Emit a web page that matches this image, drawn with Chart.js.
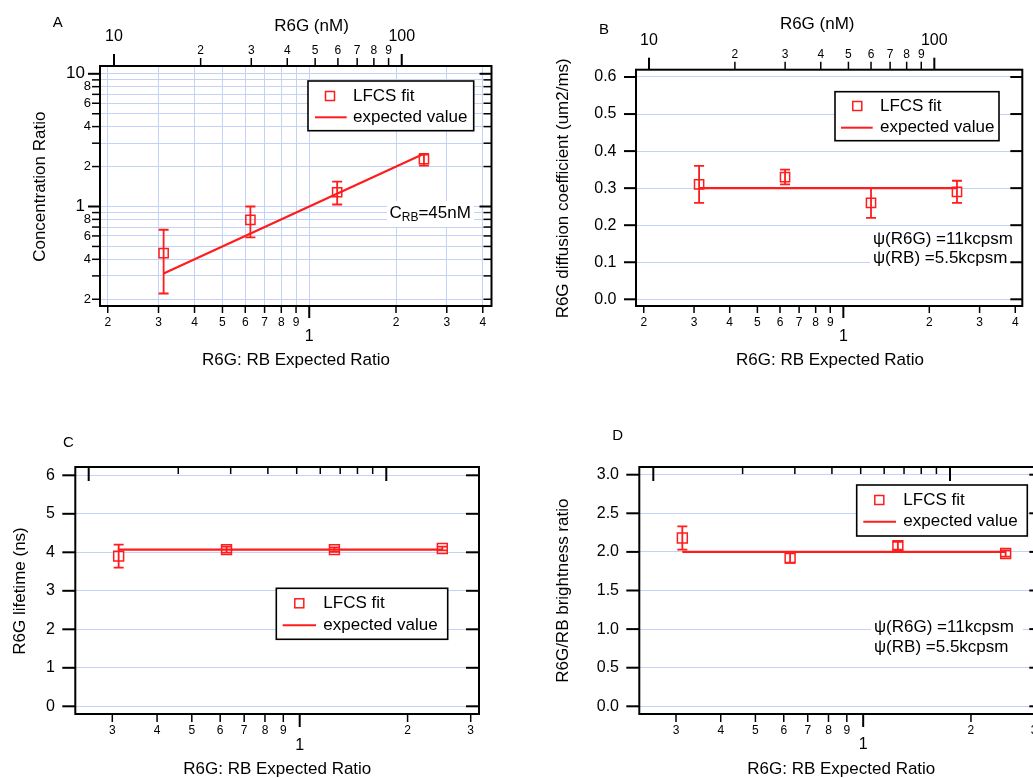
<!DOCTYPE html>
<html>
<head>
<meta charset="utf-8">
<title>R6G / RB LFCS</title>
<script src="https://cdn.jsdelivr.net/npm/chart.js@4.4.1/dist/chart.umd.min.js"></script>
<style>
  html, body { margin: 0; padding: 0; background: #fff; overflow: hidden; }
  body { width: 1033px; height: 778px; position: relative; }
  canvas { position: absolute; left: 0; top: 0; }
</style>
</head>
<body>
<canvas id="chartA" width="1060" height="778"></canvas>
<canvas id="chartB" width="1060" height="778"></canvas>
<canvas id="chartC" width="1060" height="778"></canvas>
<canvas id="chartD" width="1060" height="778"></canvas>
<script>
// R6G:RB expected ratio, same for every panel
const expectedRatio = [0.3125, 0.625, 1.25, 2.5];

// A - concentration ratio from the LFCS fit (error bar low / high)
const concRatio = [0.446, 0.794, 1.28, 2.27];
const concLow   = [0.221, 0.585, 1.035, 2.03];
const concHigh  = [0.668, 1.0, 1.54, 2.49];

// B - R6G diffusion coefficient (um2/ms)
const diffCoef = [0.31, 0.33, 0.26, 0.29];
const diffErr  = [0.05, 0.02, 0.04, 0.03];
const diffExpected = 0.3;

// C - R6G lifetime (ns)
const lifetime = [3.90, 4.07, 4.07, 4.10];
const lifetimeErr = [0.30, 0.08, 0.06, 0.05];
const lifetimeExpected = 4.07;

// D - R6G/RB brightness ratio
const brightRatio = [2.18, 1.92, 2.08, 1.98];
const brightErr   = [0.15, 0.06, 0.05, 0.04];
const brightExpected = 2.0;

// ticks + labels
const ratioTicksAB  = [0.2, 0.3, 0.4, 0.5, 0.6, 0.7, 0.8, 0.9, 1, 2, 3, 4];
const ratioLabelsAB = ['2', '3', '4', '5', '6', '7', '8', '9', '1', '2', '3', '4'];
const ratioTicksCD  = [0.3, 0.4, 0.5, 0.6, 0.7, 0.8, 0.9, 1, 2, 3];
const ratioLabelsCD = ['3', '4', '5', '6', '7', '8', '9', '1', '2', '3'];
const nMTicks  = [10, 20, 30, 40, 50, 60, 70, 80, 90, 100];
const nMLabels = ['10', '2', '3', '4', '5', '6', '7', '8', '9', '100'];
const concTicks  = [0.2, 0.3, 0.4, 0.5, 0.6, 0.7, 0.8, 0.9, 1, 2, 3, 4, 5, 6, 7, 8, 9, 10];
const concLabels = ['2', '', '4', '', '6', '', '8', '', '1', '2', '', '4', '', '6', '', '8', '', '10'];
const diffTicks  = [0, 0.1, 0.2, 0.3, 0.4, 0.5, 0.6];
const diffLabels = ['0.0', '0.1', '0.2', '0.3', '0.4', '0.5', '0.6'];
const lifeTicks  = [0, 1, 2, 3, 4, 5, 6];
const lifeLabels = ['0', '1', '2', '3', '4', '5', '6'];
const brightTicks  = [0, 0.5, 1, 1.5, 2, 2.5, 3];
const brightLabels = ['0.0', '0.5', '1.0', '1.5', '2.0', '2.5', '3.0'];

const W = 1060, H = 778;
const RED = '#ff1c1c';
const GRID = '#c4d2f7';
const FAMILY = '"Liberation Sans", Arial, Helvetica, sans-serif';
const font = px => px + 'px ' + FAMILY;
const TEXT = 17;   // titles, legend, notes

function scaleOpts(ax, position, showGrid) {
  return {
    type: ax.type, position, min: ax.min, max: ax.max, bounds: 'data',
    display: true,
    ticks: { display: false, autoSkip: false },
    grid: { display: !!showGrid, color: GRID, lineWidth: 1, drawTicks: false },
    border: { display: false },
    afterBuildTicks: s => { s.ticks = ax.ticks.map(v => ({ value: v })); },
    afterFit: s => { if (s.isHorizontal()) s.height = 0; else s.width = 0; }
  };
}

// tick marks (and their labels) on one side of the frame
function marks(ctx, scale, ax, side, st, ca) {
  ax.ticks.forEach((v, i) => {
    const major = ax.majors.includes(v);
    const len = major ? st.major : st.minor;
    const p = scale.getPixelForValue(v);
    ctx.beginPath();
    ctx.strokeStyle = '#000';
    ctx.lineWidth = major ? 2 : 1.5;
    if (side === 'bottom') { ctx.moveTo(p, ca.bottom); ctx.lineTo(p, ca.bottom + len); }
    else if (side === 'top') { ctx.moveTo(p, ca.top); ctx.lineTo(p, ca.top + (st.inward ? len : -len)); }
    else if (side === 'left') { ctx.moveTo(ca.left, p); ctx.lineTo(ca.left - len, p); }
    else { ctx.moveTo(ca.right, p); ctx.lineTo(ca.right - len, p); }
    ctx.stroke();

    if (!st.fonts || !ax.labels[i]) return;
    ctx.fillStyle = '#000';
    ctx.font = font(major ? st.fonts[0] : st.fonts[1]);
    ctx.textBaseline = 'middle';
    if (side === 'bottom') {
      ctx.textAlign = 'center';
      ctx.fillText(ax.labels[i], p, ca.bottom + (major ? st.off[0] : st.off[1]));
    } else if (side === 'top') {
      ctx.textAlign = 'center';
      ctx.fillText(ax.labels[i], p, ca.top - (major ? st.off[0] : st.off[1]));
    } else if (side === 'left') {
      ctx.textAlign = 'right';
      ctx.fillText(ax.labels[i], ca.left - (major ? st.off[0] : st.off[1]), p);
    }
  });
}

function drawLegend(ctx, lg) {
  const [l, t, r, b] = lg.box;
  ctx.fillStyle = '#fff';
  ctx.fillRect(l, t, r - l, b - t);
  ctx.strokeStyle = '#000';
  ctx.lineWidth = 1.6;
  ctx.strokeRect(l, t, r - l, b - t);
  ctx.strokeStyle = RED;
  ctx.lineWidth = 1.5;
  ctx.strokeRect(lg.marker[0] - 4.5, lg.marker[1] - 4.5, 9, 9);
  ctx.lineWidth = 2;
  ctx.beginPath();
  ctx.moveTo(lg.line[0], lg.line[2]);
  ctx.lineTo(lg.line[1], lg.line[2]);
  ctx.stroke();
  ctx.fillStyle = '#000';
  ctx.font = font(TEXT);
  ctx.textAlign = 'left';
  ctx.textBaseline = 'middle';
  ctx.fillText('LFCS fit', lg.textX, lg.marker[1]);
  ctx.fillText('expected value', lg.textX, lg.line[2]);
}

// free text with a white patch behind it; parts are [text, size, dy]
function drawNote(ctx, note) {
  ctx.fillStyle = '#fff';
  ctx.fillRect(...note.bg);
  ctx.fillStyle = '#000';
  ctx.textAlign = 'left';
  ctx.textBaseline = 'middle';
  note.rows.forEach(row => {
    let x = note.x;
    row.parts.forEach(([txt, size, dy]) => {
      ctx.font = font(size);
      ctx.fillText(txt, x, row.y + dy);
      x += ctx.measureText(txt).width;
    });
  });
}

function text(ctx, str, x, y, size, rotate) {
  ctx.save();
  ctx.fillStyle = '#000';
  ctx.font = font(size);
  ctx.textAlign = 'center';
  ctx.textBaseline = 'middle';
  ctx.translate(x, y);
  if (rotate) ctx.rotate(-Math.PI / 2);
  ctx.fillText(str, 0, 0);
  ctx.restore();
}

function decorations(cfg) {
  return {
    id: 'decor' + cfg.name,
    afterDatasetsDraw(chart) {
      const ctx = chart.ctx, xs = chart.scales.x, ys = chart.scales.y;
      ctx.save();
      ctx.strokeStyle = RED;
      ctx.lineWidth = 1.8;
      expectedRatio.forEach((r, i) => {
        const x = xs.getPixelForValue(r);
        const y1 = ys.getPixelForValue(cfg.low[i]);
        const y2 = ys.getPixelForValue(cfg.high[i]);
        ctx.beginPath();
        ctx.moveTo(x, y1); ctx.lineTo(x, y2);
        ctx.moveTo(x - 5, y1); ctx.lineTo(x + 5, y1);
        ctx.moveTo(x - 5, y2); ctx.lineTo(x + 5, y2);
        ctx.stroke();
      });
      ctx.restore();
    },
    afterDraw(chart) {
      const ctx = chart.ctx, ca = chart.chartArea;
      ctx.save();
      (cfg.notes || []).forEach(n => drawNote(ctx, n));
      drawLegend(ctx, cfg.legend);

      ctx.strokeStyle = '#000';
      ctx.lineWidth = 2;
      ctx.strokeRect(ca.left, ca.top, ca.right - ca.left, ca.bottom - ca.top);

      marks(ctx, chart.scales.x, cfg.x, 'bottom', cfg.sides.bottom, ca);
      marks(ctx, chart.scales.xTop, cfg.top, 'top', cfg.sides.top, ca);
      marks(ctx, chart.scales.y, cfg.y, 'left', cfg.sides.left, ca);
      marks(ctx, chart.scales.y, cfg.y, 'right', cfg.sides.right, ca);

      const t = cfg.titles;
      text(ctx, 'R6G: RB Expected Ratio', t.x[0], t.x[1], TEXT);
      text(ctx, t.yText, t.y[0], t.y[1], TEXT, true);
      if (t.top) text(ctx, 'R6G (nM)', t.top[0], t.top[1], TEXT);
      text(ctx, cfg.name, t.letter[0], t.letter[1], 15);
      ctx.restore();
    }
  };
}

function buildPanel(id, cfg) {
  const a = cfg.area;
  new Chart(document.getElementById(id), {
    type: 'scatter',
    data: {
      datasets: [
        {
          data: cfg.values.map((v, i) => ({ x: expectedRatio[i], y: v })),
          pointStyle: 'rect',
          pointRadius: cfg.marker,
          pointHoverRadius: cfg.marker,
          pointBorderWidth: 1.5,
          borderColor: RED,
          backgroundColor: 'rgba(0,0,0,0)',
          showLine: false
        },
        {
          data: cfg.expected,
          showLine: true,
          borderColor: RED,
          borderWidth: 2.2,
          pointRadius: 0,
          fill: false
        }
      ]
    },
    options: {
      responsive: false,
      animation: false,
      devicePixelRatio: 1,
      events: [],
      layout: { padding: { left: a.left, top: a.top, right: W - a.right, bottom: H - a.bottom } },
      plugins: { legend: { display: false }, tooltip: { enabled: false } },
      scales: {
        x: scaleOpts(cfg.x, 'bottom', cfg.x.grid),
        xTop: Object.assign(scaleOpts(cfg.top, 'top', false), { axis: 'x', display: false }),
        y: scaleOpts(cfg.y, 'left', cfg.y.grid)
      }
    },
    plugins: [decorations(cfg)]
  });
}

const logSides = {
  bottom: { major: 12, minor: 7, off: [31, 16.5], fonts: [16, 12] },
  top:    { major: 12, minor: 8, inward: false, off: [29, 15.5], fonts: [16, 12] },
  right:  { major: 12, minor: 8 }
};

buildPanel('chartA', {
  name: 'A',
  area: { left: 100, top: 66, right: 491.5, bottom: 306 },
  x: { type: 'logarithmic', min: 0.188, max: 4.2885, ticks: ratioTicksAB, labels: ratioLabelsAB, majors: [1], grid: true },
  top: { type: 'logarithmic', min: 8.939, max: 205.1, ticks: nMTicks, labels: nMLabels, majors: [10, 100] },
  y: { type: 'logarithmic', min: 0.1779, max: 11.449, ticks: concTicks, labels: concLabels, majors: [1, 10], grid: true },
  values: concRatio, low: concLow, high: concHigh,
  expected: [{ x: expectedRatio[0], y: expectedRatio[0] }, { x: expectedRatio[3], y: expectedRatio[3] }],
  marker: 6.5,
  sides: Object.assign({}, logSides, { left: { major: 12, minor: 8, off: [15, 9], fonts: [17, 13] } }),
  legend: { box: [308, 81, 473.7, 130.7], marker: [330, 96], line: [315, 346.7, 117.3], textX: 353 },
  notes: [{ bg: [387, 201, 87, 26], x: 389.5, rows: [{ y: 213, parts: [['C', TEXT, 0], ['RB', 12, 5], ['=45nM', TEXT, 0]] }] }],
  titles: { x: [296, 360], y: [40, 186.7], yText: 'Concentration Ratio', top: [311.5, 26], letter: [57.7, 22.7] }
});

buildPanel('chartB', {
  name: 'B',
  area: { left: 636, top: 69.7, right: 1022.3, bottom: 306 },
  x: { type: 'logarithmic', min: 0.18789, max: 4.2335, ticks: ratioTicksAB, labels: ratioLabelsAB, majors: [1] },
  top: { type: 'logarithmic', min: 9.0045, max: 203.4, ticks: nMTicks, labels: nMLabels, majors: [10, 100] },
  y: { type: 'linear', min: -0.0181, max: 0.6197, ticks: diffTicks, labels: diffLabels, majors: diffTicks, grid: true },
  values: diffCoef,
  low: diffCoef.map((v, i) => v - diffErr[i]),
  high: diffCoef.map((v, i) => v + diffErr[i]),
  expected: [{ x: expectedRatio[0], y: diffExpected }, { x: expectedRatio[3], y: diffExpected }],
  marker: 6.5,
  sides: Object.assign({}, logSides, { left: { major: 12, minor: 12, off: [19.5, 19.5], fonts: [16, 16] } }),
  legend: { box: [835, 91.7, 999, 140.7], marker: [857.3, 106], line: [841, 872.7, 127.7], textX: 880 },
  notes: [{ bg: [870, 228, 142, 41], x: 873, rows: [
    { y: 239.3, parts: [['\u03c8(R6G) =11kcpsm', TEXT, 0]] },
    { y: 258.3, parts: [['\u03c8(RB) =5.5kcpsm', TEXT, 0]] }
  ] }],
  titles: { x: [830, 360], y: [563.3, 188.3], yText: 'R6G diffusion coefficient (um2/ms)', top: [817.2, 24], letter: [604, 30] }
});

const innerSides = {
  bottom: { major: 13, minor: 8, off: [32, 17], fonts: [16, 12] },
  top:    { major: 14, minor: 7, inward: true },
  left:   { major: 13, minor: 13, off: [20.3, 20.3], fonts: [16, 16] },
  right:  { major: 13, minor: 13 }
};

buildPanel('chartC', {
  name: 'C',
  area: { left: 75.3, top: 467, right: 479, bottom: 714 },
  x: { type: 'logarithmic', min: 0.23654, max: 3.1643, ticks: ratioTicksCD, labels: ratioLabelsCD, majors: [1] },
  top: { type: 'logarithmic', min: 9.0157, max: 204.9, ticks: nMTicks, labels: nMLabels, majors: [10, 100] },
  y: { type: 'linear', min: -0.2, max: 6.2156, ticks: lifeTicks, labels: lifeLabels, majors: lifeTicks, grid: true },
  values: lifetime,
  low: lifetime.map((v, i) => v - lifetimeErr[i]),
  high: lifetime.map((v, i) => v + lifetimeErr[i]),
  expected: [{ x: expectedRatio[0], y: lifetimeExpected }, { x: expectedRatio[3], y: lifetimeExpected }],
  marker: 7,
  sides: innerSides,
  legend: { box: [276.3, 588.3, 447.7, 639.3], marker: [299.3, 603.3], line: [282.7, 316, 625.3], textX: 323.3 },
  notes: [],
  titles: { x: [277.3, 769], y: [20, 591], yText: 'R6G lifetime (ns)', letter: [68.3, 442.7] }
});

buildPanel('chartD', {
  name: 'D',
  area: { left: 639.3, top: 467, right: 1042.3, bottom: 714 },
  x: { type: 'logarithmic', min: 0.23694, max: 3.1645, ticks: ratioTicksCD, labels: ratioLabelsCD, majors: [1] },
  top: { type: 'logarithmic', min: 8.971, max: 204.7, ticks: nMTicks, labels: nMLabels, majors: [10, 100] },
  y: { type: 'linear', min: -0.0997, max: 3.0997, ticks: brightTicks, labels: brightLabels, majors: brightTicks, grid: true },
  values: brightRatio,
  low: brightRatio.map((v, i) => v - brightErr[i]),
  high: brightRatio.map((v, i) => v + brightErr[i]),
  expected: [{ x: expectedRatio[0], y: brightExpected }, { x: expectedRatio[3], y: brightExpected }],
  marker: 7,
  sides: Object.assign({}, innerSides, { bottom: { major: 13, minor: 8, off: [30.3, 17], fonts: [16, 12] } }),
  legend: { box: [856.7, 485, 1027.3, 536], marker: [879.3, 500], line: [863.3, 896, 521.7], textX: 903.3 },
  notes: [{ bg: [871, 616, 152, 43], x: 874, rows: [
    { y: 627.3, parts: [['\u03c8(R6G) =11kcpsm', TEXT, 0]] },
    { y: 647.7, parts: [['\u03c8(RB) =5.5kcpsm', TEXT, 0]] }
  ] }],
  titles: { x: [841.3, 769], y: [563.3, 590.7], yText: 'R6G/RB brightness ratio', letter: [617.7, 435.7] }
});
</script>
</body>
</html>
